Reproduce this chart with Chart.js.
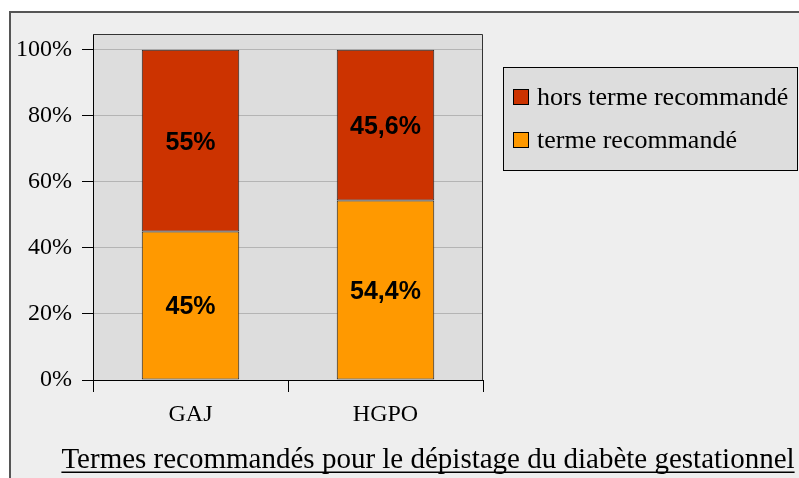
<!DOCTYPE html>
<html>
<head>
<meta charset="utf-8">
<script src="https://cdn.jsdelivr.net/npm/chart.js@4.4.0/dist/chart.umd.min.js"></script>
<style>
  html, body { margin: 0; padding: 0; background: #fff; }
  #wrap { width: 799px; height: 478px; }
</style>
</head>
<body>
<div id="wrap"><canvas id="chart" width="799" height="478"></canvas></div>
<script>
// data
const categories = ['GAJ', 'HGPO'];
const termeRecommande = [45, 54.4];
const horsTerme = [55, 45.6];
const yTicks = [0, 20, 40, 60, 80, 100];
const chartTitle = 'Termes recommandés pour le dépistage du diabète gestationnel';

const serif = '"Liberation Serif", "Times New Roman", serif';
const sans = '"Liberation Sans", Arial, sans-serif';

const pct = v => String(v).replace('.', ',') + '%';

// backgrounds: outer frame + gray plot area
const backgroundPlugin = {
    id: 'backgrounds',
    beforeDraw(chart) {
        const ctx = chart.ctx;
        const a = chart.chartArea;
        ctx.save();
        ctx.fillStyle = '#ffffff';
        ctx.fillRect(0, 0, chart.width, chart.height);
        ctx.fillStyle = '#eeeeee';
        ctx.fillRect(9, 11, chart.width, chart.height);
        ctx.strokeStyle = '#555555';
        ctx.lineWidth = 2;
        ctx.beginPath();
        ctx.moveTo(10, chart.height + 5);
        ctx.lineTo(10, 12);
        ctx.lineTo(chart.width + 5, 12);
        ctx.stroke();
        ctx.fillStyle = '#dddddd';
        ctx.fillRect(a.left, a.top, a.right - a.left, a.bottom - a.top);
        ctx.restore();
    }
};

// value labels inside each segment
const valueLabels = {
    id: 'valueLabels',
    afterDatasetsDraw(chart) {
        const ctx = chart.ctx;
        ctx.save();
        ctx.font = 'bold 25px ' + sans;
        ctx.fillStyle = '#000';
        ctx.textAlign = 'center';
        ctx.textBaseline = 'middle';
        chart.data.datasets.forEach((ds, i) => {
            const meta = chart.getDatasetMeta(i);
            meta.data.forEach((bar, j) => {
                const p = bar.getProps(['x', 'y', 'base'], true);
                ctx.fillText(pct(ds.data[j]), p.x, (p.y + p.base) / 2 + 2);
            });
        });
        ctx.restore();
    }
};

// plot border, legend box and underlined caption
const extras = {
    id: 'extras',
    afterDraw(chart) {
        const ctx = chart.ctx;
        const a = chart.chartArea;
        ctx.save();
        ctx.strokeStyle = '#333';
        ctx.lineWidth = 1;
        ctx.beginPath();
        ctx.moveTo(a.left, a.top + 0.5);
        ctx.lineTo(a.right - 0.5, a.top + 0.5);
        ctx.lineTo(a.right - 0.5, a.bottom);
        ctx.stroke();

        // legend
        ctx.fillStyle = '#dddddd';
        ctx.fillRect(503.5, 67.5, 294, 103);
        ctx.strokeStyle = '#000';
        ctx.strokeRect(503.5, 67.5, 294, 103);
        const items = chart.data.datasets.slice().reverse();
        ctx.font = '26px ' + serif;
        ctx.textBaseline = 'middle';
        items.forEach((ds, k) => {
            const cy = 97 + k * 43;
            ctx.fillStyle = ds.backgroundColor;
            ctx.fillRect(513.5, cy - 7.5, 15, 15);
            ctx.strokeStyle = '#000';
            ctx.strokeRect(513.5, cy - 7.5, 15, 15);
            ctx.fillStyle = '#000';
            ctx.textAlign = 'left';
            ctx.fillText(ds.label, 537, cy + 1);
        });

        // caption
        ctx.font = '29px ' + serif;
        ctx.textAlign = 'center';
        ctx.textBaseline = 'alphabetic';
        ctx.fillStyle = '#000';
        const cx = 428, by = 468;
        ctx.fillText(chartTitle, cx, by);
        const w = ctx.measureText(chartTitle).width;
        ctx.fillRect(cx - w / 2, by + 3.5, w, 1.5);
        ctx.restore();
    }
};

new Chart(document.getElementById('chart'), {
    type: 'bar',
    data: {
        labels: categories,
        datasets: [
            {
                label: 'terme recommandé',
                data: termeRecommande,
                backgroundColor: '#ff9900',
                borderColor: '#222',
                borderWidth: 1,
                borderSkipped: false
            },
            {
                label: 'hors terme recommandé',
                data: horsTerme,
                backgroundColor: '#cc3300',
                borderColor: '#222',
                borderWidth: 1,
                borderSkipped: false
            }
        ]
    },
    options: {
        responsive: false,
        animation: false,
        devicePixelRatio: 1,
        layout: { padding: { left: 0, right: 316, top: 34, bottom: 0 } },
        datasets: { bar: { barPercentage: 0.5, categoryPercentage: 1 } },
        plugins: {
            legend: { display: false },
            title: { display: false },
            tooltip: { enabled: false }
        },
        scales: {
            x: {
                stacked: true,
                grid: { drawOnChartArea: false, tickLength: 12, tickColor: '#000', offset: true },
                border: { color: '#000', width: 1 },
                ticks: { color: '#000', font: { family: serif, size: 24 }, padding: 8 },
                afterFit(s) { s.height = 98; }
            },
            y: {
                stacked: true,
                min: 0,
                max: 104.8,
                grid: { color: '#b4b4b4', tickColor: '#000', tickLength: 11 },
                border: { color: '#000', width: 1 },
                ticks: {
                    stepSize: 20,
                    color: '#000',
                    padding: 10,
                    font: { family: serif, size: 24 },
                    callback: v => v + '%'
                },
                afterBuildTicks(s) { s.ticks = yTicks.map(v => ({ value: v })); },
                afterFit(s) { s.width = 93; }
            }
        }
    },
    plugins: [backgroundPlugin, valueLabels, extras]
});
</script>
</body>
</html>
